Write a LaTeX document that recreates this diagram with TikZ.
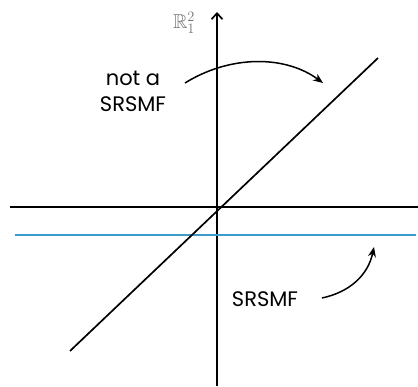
\documentclass[tikz,border=0pt]{standalone}
\usepackage{amssymb}
\usepackage{fontspec}
\setmainfont{Poppins}
\usetikzlibrary{arrows.meta}
\definecolor{lineblue}{RGB}{60,155,200}
\begin{document}
\begin{tikzpicture}[x=1pt,y=-1pt,
  axis/.style={line width=1.7pt,black},
  lab/.style={font=\fontsize{21}{26}\selectfont,align=center,inner sep=0pt},
  curvarrow/.style={line width=1.5pt,-{Stealth[length=10pt,width=8pt]}}]
\useasboundingbox (0,0) rectangle (418,386);
% axes
\coordinate (ytop) at (217,12);
\coordinate (ybot) at (217,386);
\coordinate (xl) at (10,207);
\coordinate (xr) at (418,207);
\draw[axis,-{Straight Barb[length=6pt,width=11pt]}] (ybot) -- (ytop);
\draw[axis] (xl) -- (xr);
\coordinate (bl) at (15,235);
\coordinate (br) at (416,235);
\draw[line width=2pt,lineblue] (bl) -- (br);
\coordinate (dl) at (70,351);
\coordinate (dr) at (378,58);
\draw[axis] (dl) -- (dr);
% labels
\node[inner sep=0pt,text=black!55,font=\fontsize{20}{24}\selectfont] (R) at (184,23) {$\mathbb{R}^2_1$};
\node[lab] (nota) at (133,91) {not a\\SRSMF};
\node[lab] (srs) at (265,299) {SRSMF};
\coordinate (a1s) at (185,83);
\coordinate (a1e) at (323,83);
\draw[curvarrow] (a1s) .. controls (230,55) and (285,55) .. (a1e);
\coordinate (a2s) at (322,298);
\coordinate (a2e) at (374,247);
\draw[curvarrow] (a2s) .. controls (350,292) and (368,275) .. (a2e);
\end{tikzpicture}
\end{document}
